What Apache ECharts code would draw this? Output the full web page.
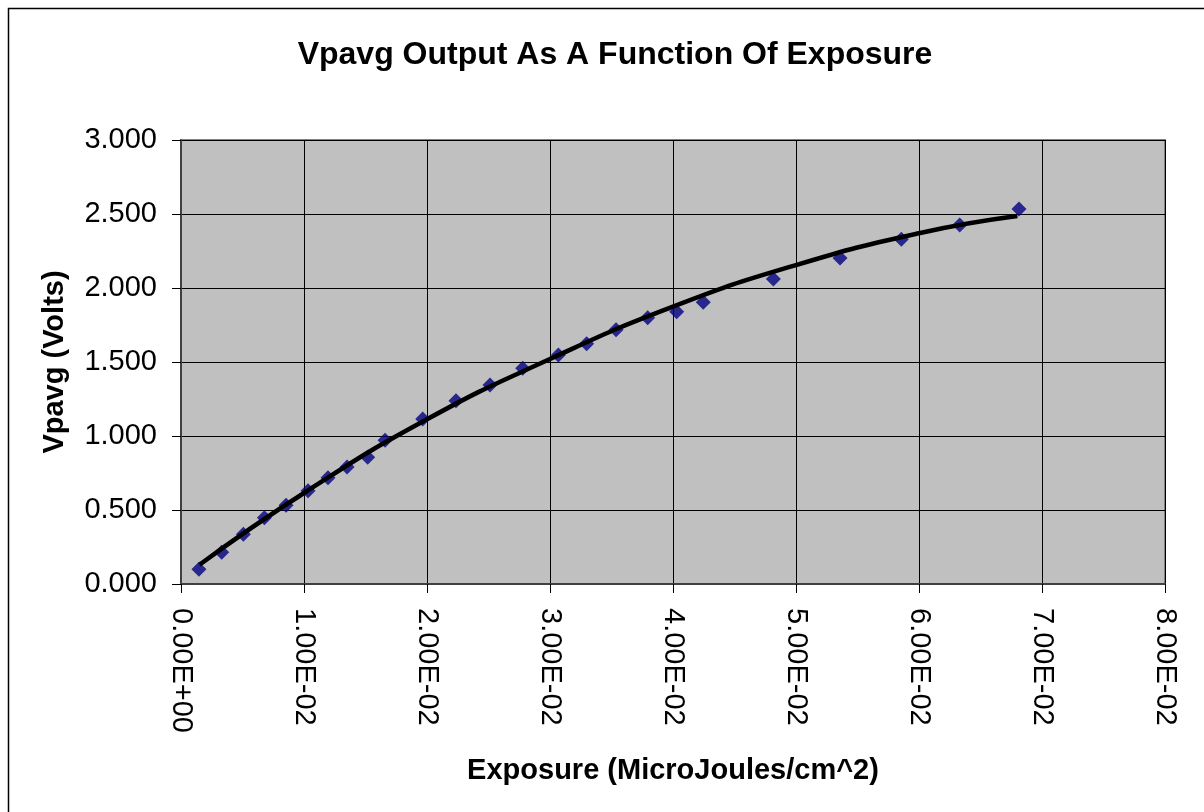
<!DOCTYPE html>
<html>
<head>
<meta charset="utf-8">
<script src="https://cdn.jsdelivr.net/npm/echarts@6/dist/echarts.min.js"></script>
<style>
html,body{margin:0;padding:0;background:#fff;}
#chart{width:1204px;height:812px;}
</style>
</head>
<body>
<div id="chart"></div>
<script>
// Measured data points (exposure, Vpavg)
var exposure = [0.00146, 0.00331, 0.00507, 0.00678, 0.00854, 0.01033, 0.01195, 0.0135, 0.01518, 0.01659,
                0.01965, 0.02236, 0.02512, 0.02778, 0.03068, 0.03298, 0.03537, 0.03794, 0.0403, 0.04246,
                0.04816, 0.05358, 0.05856, 0.06331, 0.06813];
var vpavg = [0.099, 0.214, 0.336, 0.448, 0.532, 0.630, 0.718, 0.791, 0.856, 0.971,
             1.115, 1.239, 1.345, 1.457, 1.547, 1.624, 1.718, 1.799, 1.840, 1.903,
             2.061, 2.203, 2.329, 2.426, 2.534];
// Trendline
var trendX = [0.0015, 0.01, 0.02, 0.03, 0.04, 0.05, 0.06, 0.068];
var trendY = [0.13, 0.615, 1.113, 1.52, 1.874, 2.155, 2.37, 2.486];

var titleText = 'Vpavg Output As A Function Of Exposure';
var xTitle = 'Exposure (MicroJoules/cm^2)';
var yTitle = 'Vpavg (Volts)';

function expFmt(v){
  if (Math.abs(v) < 1e-12) return '0.00E+00';
  var s = v.toExponential(2).toUpperCase();
  var m = s.match(/^(-?[\d.]+)E([+-])(\d+)$/);
  var e = m[3].length < 2 ? '0' + m[3] : m[3];
  return m[1] + 'E' + m[2] + e;
}

var pts = exposure.map(function(x,i){return [x, vpavg[i]];});
var trend = trendX.map(function(x,i){return [x, trendY[i]];});

var font = 'Arial, "Liberation Sans", sans-serif';
var chart = echarts.init(document.getElementById('chart'));
chart.setOption({
  animation:false,
  backgroundColor:'#ffffff',
  textStyle:{fontFamily:font},
  title:{
    text:titleText,
    left:610, top:34, textAlign:'center',
    textStyle:{fontSize:32, fontWeight:'bold', color:'#000', fontFamily:font}
  },
  graphic:[{
    type:'rect', left:6, top:6, silent:true,
    shape:{x:0,y:0,width:1220,height:830},
    style:{fill:'none', stroke:'#000', lineWidth:1.5}
  }],
  grid:{
    left:181, top:140, right:39, bottom:228,
    show:true, backgroundColor:'#C0C0C0', borderColor:'#808080', borderWidth:2
  },
  xAxis:{
    type:'value', min:0, max:0.08, interval:0.01,
    name:xTitle, nameLocation:'middle', nameGap:172,
    nameTextStyle:{fontSize:29, fontWeight:'bold', color:'#000', fontFamily:font},
    axisLine:{show:true, onZero:false, lineStyle:{color:'#404040', width:2}},
    axisTick:{show:true, length:9, lineStyle:{color:'#000', width:1}},
    axisLabel:{rotate:-90, margin:24, fontSize:29, color:'#000', fontFamily:font, formatter:expFmt},
    splitLine:{show:true, lineStyle:{color:'#000', width:1}}
  },
  yAxis:{
    type:'value', min:0, max:3, interval:0.5,
    name:yTitle, nameLocation:'middle', nameGap:112, nameRotate:90,
    nameTextStyle:{fontSize:29, fontWeight:'bold', color:'#000', fontFamily:font},
    axisLine:{show:true, lineStyle:{color:'#404040', width:2}},
    axisTick:{show:true, length:9, lineStyle:{color:'#000', width:1}},
    axisLabel:{margin:24, fontSize:29, color:'#000', fontFamily:font, formatter:function(v){return v.toFixed(3);}},
    splitLine:{show:true, lineStyle:{color:'#000', width:1}}
  },
  series:[
    {
      type:'scatter', data:pts, symbol:'diamond', symbolSize:15,
      itemStyle:{color:'#000080'}, z:2
    },
    {
      type:'line', data:trend, smooth:true, showSymbol:false, symbol:'none',
      lineStyle:{color:'#000', width:4.5}, z:3
    }
  ]
});
</script>
</body>
</html>
